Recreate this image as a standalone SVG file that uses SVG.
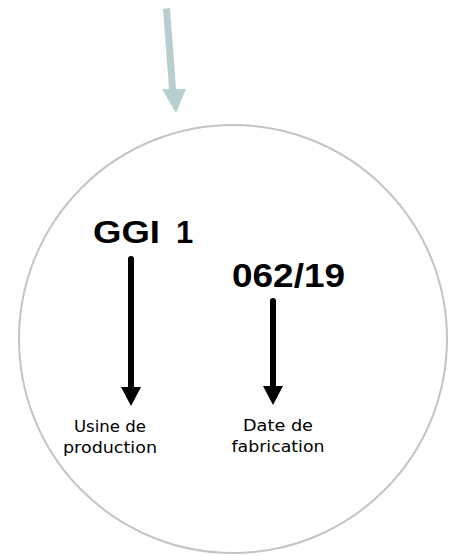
<svg xmlns="http://www.w3.org/2000/svg" width="451" height="556" viewBox="0 0 451 556">
<style>
.big{font-family:"Liberation Sans",Arial,sans-serif;font-weight:bold;fill:#000}
.lbl{font-family:"DejaVu Sans",Verdana,sans-serif;font-size:15.5px;fill:#000;text-anchor:middle}
</style>
<rect width="451" height="556" fill="#fff"/>
<g id="circle"><circle cx="233" cy="339" r="214" fill="none" stroke="#c4c4c4" stroke-width="2"/></g>
<g id="connectors">
<polygon points="163,9 170,8 176,89 186,89 176,113 162,89 169,89" fill="#b8cfcf"/>
<line x1="131" y1="259" x2="131" y2="390" stroke="#000" stroke-width="6" stroke-linecap="round"/>
<polygon points="121,387 141,387 131,406" fill="#000"/>
<line x1="273" y1="301" x2="273" y2="390" stroke="#000" stroke-width="6" stroke-linecap="round"/>
<polygon points="263,386 283,386 273,405" fill="#000"/>
</g>
<g id="ggi"><text class="big" y="243" font-size="31"><tspan x="93" textLength="67" lengthAdjust="spacingAndGlyphs">GGI</tspan><tspan x="176">1</tspan></text></g>
<g id="date"><text class="big" x="232" y="287" font-size="34" textLength="113" lengthAdjust="spacingAndGlyphs">062/19</text></g>
<g id="usine"><text class="lbl" x="110" y="432" textLength="72" lengthAdjust="spacingAndGlyphs">Usine de</text><text class="lbl" x="110" y="453" textLength="94" lengthAdjust="spacingAndGlyphs">production</text></g>
<g id="fab"><text class="lbl" x="278" y="431" textLength="70" lengthAdjust="spacingAndGlyphs">Date de</text><text class="lbl" x="278" y="452" textLength="93" lengthAdjust="spacingAndGlyphs">fabrication</text></g>
</svg>
